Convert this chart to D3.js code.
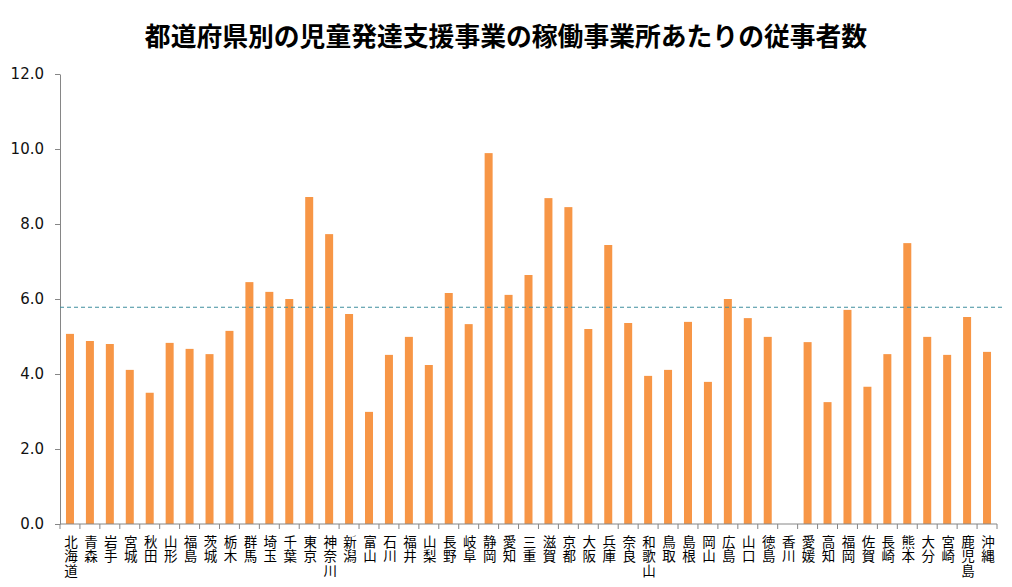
<!DOCTYPE html>
<html><head><meta charset="utf-8">
<script src="https://cdn.jsdelivr.net/npm/d3@7"></script>
<style>
html,body{margin:0;padding:0;background:#fff;}
svg{display:block;}
</style></head>
<body>
<svg id="chart" width="1012" height="587"></svg>
<script>
const title = "都道府県別の児童発達支援事業の稼働事業所あたりの従事者数";
const prefectures = ["北海道","青森","岩手","宮城","秋田","山形","福島","茨城","栃木","群馬","埼玉","千葉","東京","神奈川","新潟","富山","石川","福井","山梨","長野","岐阜","静岡","愛知","三重","滋賀","京都","大阪","兵庫","奈良","和歌山","鳥取","島根","岡山","広島","山口","徳島","香川","愛媛","高知","福岡","佐賀","長崎","熊本","大分","宮崎","鹿児島","沖縄"];
const values = [5.07,4.88,4.80,4.11,3.50,4.83,4.67,4.53,5.15,6.45,6.19,6.00,8.72,7.73,5.60,2.99,4.51,4.99,4.24,6.16,5.33,9.89,6.11,6.64,8.69,8.45,5.20,7.44,5.36,3.95,4.11,5.39,3.79,6.00,5.49,4.99,null,4.85,3.25,5.71,3.66,4.53,7.49,4.99,4.51,5.52,4.59];
const nationalAverage = 5.78;
const yTicks = [0,2,4,6,8,10,12];
const yTickLabels = ["0.0","2.0","4.0","6.0","8.0","10.0","12.0"];

const svg = d3.select("#chart");
const mLeft = 60, mRight = 997, mTop = 74, mBottom = 524;

const xb = d3.scaleBand().domain(prefectures).range([mLeft, mRight]);
const y = d3.scaleLinear().domain([0, 12]).range([mBottom, mTop]);

// title
svg.append("text").attr("x", 506).attr("y", 34)
  .attr("text-anchor", "middle").attr("dominant-baseline", "central")
  .attr("font-family", "Noto Sans CJK JP").attr("font-weight", "bold")
  .attr("font-size", 25.8).attr("fill", "#000").text(title);

// bars
svg.append("g").selectAll("rect")
  .data(prefectures.map((p, i) => ({p, v: values[i]})).filter(d => d.v != null))
  .join("rect")
  .attr("x", d => xb(d.p) + xb.bandwidth()/2 - 4)
  .attr("width", 8)
  .attr("y", d => y(d.v))
  .attr("height", d => y(0) - y(d.v))
  .attr("fill", "#F79646");

// y axis
const yAxis = svg.append("g").attr("transform", `translate(${mLeft},0)`)
  .call(d3.axisLeft(y).tickValues(yTicks).tickFormat((d, i) => yTickLabels[i]).tickSize(5).tickSizeOuter(0).tickPadding(11));
yAxis.select(".domain").attr("stroke", "#868686");
yAxis.selectAll(".tick line").attr("stroke", "#868686");
yAxis.selectAll(".tick text").attr("font-family", "DejaVu Sans").attr("font-size", 15).attr("fill", "#111");

// x axis
const xAxis = svg.append("g").attr("transform", `translate(0,${mBottom})`);
xAxis.append("line").attr("x1", mLeft).attr("x2", mRight).attr("y1", 0).attr("y2", 0).attr("stroke", "#868686");
xAxis.selectAll("line.tk").data(prefectures.concat(["__end"])).join("line").attr("class", "tk")
  .attr("x1", (d, i) => i < prefectures.length ? xb(d) : mRight)
  .attr("x2", (d, i) => i < prefectures.length ? xb(d) : mRight)
  .attr("y1", 0).attr("y2", 5).attr("stroke", "#868686");

// vertical labels (one upright character per line)
const lbl = svg.append("g").selectAll("text").data(prefectures).join("text")
  .attr("font-family", "Noto Sans CJK JP").attr("font-size", 13.5).attr("fill", "#000")
  .attr("text-anchor", "middle");
lbl.each(function(d) {
  const t = d3.select(this);
  const cx = xb(d) + xb.bandwidth()/2 + 1;
  Array.from(d).forEach((ch, k) => {
    t.append("tspan").attr("x", cx).attr("y", 547 + k * 14.3).text(ch);
  });
});

// average dashed line
svg.append("line").attr("x1", mLeft).attr("x2", 1005)
  .attr("y1", y(nationalAverage)).attr("y2", y(nationalAverage))
  .attr("stroke", "#3f8f9f").attr("stroke-width", 1).attr("stroke-dasharray", "4,3");
</script>
</body></html>
